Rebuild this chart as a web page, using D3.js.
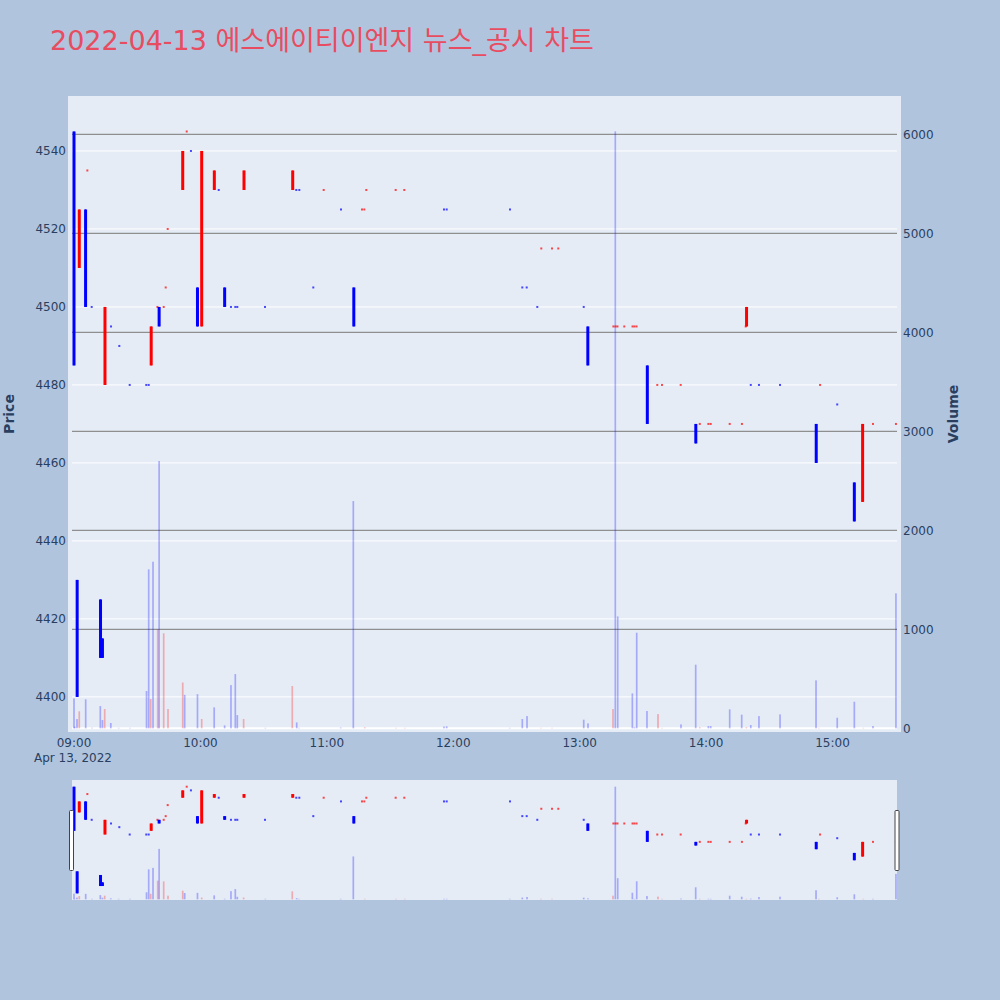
<!DOCTYPE html>
<html><head><meta charset="utf-8">
<script src="https://cdn.jsdelivr.net/npm/d3@7"></script>
<style>body{margin:0;background:#b0c4de;} svg{display:block}</style>
</head><body><svg id="c" width="1000" height="1000"></svg>
<script>
// ---------- DATA ----------
const chartTitle = "2022-04-13 에스에이티이엔지 뉴스_공시 차트";
const tradeDate = "2022-04-13";
const candleTime = ["09:00:00","09:01:30","09:02:30","09:05:30","09:06:20","09:08:24","09:12:35","09:13:30","09:14:42","09:17:34",
 "09:21:30","09:26:26","09:34:18","09:35:27","09:36:38","09:39:36","09:40:24","09:42:34","09:43:31","09:44:28",
 "09:51:36","09:53:30","09:55:30","09:58:36","10:00:36","10:06:36","10:08:41","10:11:30","10:14:30","10:16:33",
 "10:17:30","10:20:41","10:30:39","10:43:48","10:45:30","10:46:56","10:53:34","10:58:30","11:06:43","11:12:48",
 "11:16:41","11:17:47","11:18:44","11:32:40","11:36:46","11:55:36","11:56:53","12:26:56","12:32:46","12:34:51",
 "12:39:53","12:41:47","12:46:52","12:49:51","13:01:55","13:03:52","13:16:00","13:17:00","13:17:56","13:21:10",
 "13:25:05","13:26:00","13:27:00","13:32:06","13:36:50","13:39:04","13:47:56","13:55:07","13:57:00","14:01:05",
 "14:02:11","14:11:12","14:17:00","14:18:48","14:19:12","14:21:12","14:25:05","14:35:05","14:52:16","14:54:05",
 "15:02:14","15:10:21","15:14:17","15:19:12","15:30:06"];
const candleOpen = [4545,4430,4510,4525,4535,4500,4425,4415,4480,4495,
 4490,4480,4480,4480,4485,4500,4500,4500,4505,4520,
 4530,4545,4540,4505,4495,4530,4530,4505,4500,4500,
 4500,4530,4500,4530,4530,4530,4505,4530,4525,4505,
 4525,4525,4530,4530,4530,4525,4525,4525,4505,4505,
 4500,4515,4515,4515,4500,4495,4495,4495,4495,4495,
 4495,4495,4495,4485,4480,4480,4480,4470,4470,4470,
 4470,4470,4470,4495,4495,4480,4480,4480,4470,4480,
 4475,4455,4450,4470,4470];
const candleClose = [4485,4400,4525,4500,4535,4500,4410,4410,4500,4495,
 4490,4480,4480,4480,4495,4500,4495,4500,4505,4520,
 4540,4545,4540,4495,4540,4535,4530,4500,4500,4500,
 4500,4535,4500,4535,4530,4530,4505,4530,4525,4495,
 4525,4525,4530,4530,4530,4525,4525,4525,4505,4505,
 4500,4515,4515,4515,4500,4485,4495,4495,4495,4495,
 4495,4495,4495,4470,4480,4480,4480,4465,4470,4470,
 4470,4470,4470,4495,4500,4480,4480,4480,4460,4480,
 4475,4445,4470,4470,4470];
// 1 = rising (red), 0 = falling (blue)
const candleUp = [0,0,1,0,1,0,0,0,1,0,
 0,0,0,0,1,1,0,1,1,1,
 1,1,0,0,1,1,0,0,0,0,
 0,1,0,1,0,0,0,1,0,0,
 1,1,1,1,1,0,0,0,0,0,
 0,1,1,1,0,0,1,1,1,1,
 1,1,1,0,1,1,1,0,1,1,
 1,1,1,1,1,0,0,0,0,1,
 0,0,1,1,1];
const volTime = ["09:00:00","09:00:20","09:01:25","09:02:30","09:05:33","09:08:30","09:12:29","09:13:30","09:14:34","09:17:28",
 "09:21:13","09:26:35","09:34:25","09:35:27","09:36:24","09:37:30","09:39:43","09:40:24","09:42:34","09:44:37",
 "09:51:36","09:52:32","09:58:36","10:00:36","10:06:32","10:11:29","10:14:30","10:16:33","10:17:30","10:20:30",
 "10:30:48","10:43:36","10:45:42","10:46:47","11:06:35","11:12:34","11:18:00","11:32:50","11:37:00","11:55:36",
 "11:56:53","12:26:48","12:32:46","12:35:00","12:41:36","12:46:52","13:01:55","13:03:57","13:15:49","13:16:54",
 "13:18:03","13:25:00","13:26:00","13:27:04","13:31:56","13:37:10","13:39:04","13:48:05","13:55:04","13:57:00",
 "14:01:05","14:02:11","14:11:12","14:16:54","14:19:06","14:21:12","14:25:05","14:35:05","14:52:10","14:53:30",
 "15:02:14","15:10:21","15:14:37","15:19:12","15:30:06"];
const volValue = [303,16,94,172,293,6,225,84,195,54,
 5,5,377,1606,296,1683,1000,2700,960,195,
 463,338,345,94,212,30,437,548,134,94,
 5,427,60,5,8,2296,10,5,5,18,
 20,5,94,124,5,5,87,50,195,6030,
 1130,353,10,966,175,144,5,40,643,10,
 23,23,192,138,10,33,124,141,485,5,
 107,269,5,23,1364];
const volUp = [0,0,0,1,0,0,0,0,1,0,
 0,0,0,0,1,0,1,0,1,1,
 1,0,0,1,0,0,0,0,0,1,
 0,1,0,0,0,0,1,1,1,0,
 0,0,0,0,1,1,0,0,1,0,
 0,0,0,0,0,1,1,0,0,1,
 0,0,0,0,1,0,0,0,0,1,
 0,0,1,0,0];
const xTickLabels = ["09:00","10:00","11:00","12:00","13:00","14:00","15:00"];
const priceTicks = [4400,4420,4440,4460,4480,4500,4520,4540];
const volumeTicks = [0,1000,2000,3000,4000,5000,6000];

// ---------- LAYOUT ----------
const FONT = "'DejaVu Sans', Verdana, 'Noto Sans CJK KR', sans-serif";
const TXT = "#2a3f5f";
const UP = "#ff0000", DOWN = "#0000ff";
const L = 72, R = 897, T = 96, B = 732;
const sT = 780, sB = 900;
const parse = d3.timeParse("%Y-%m-%d %H:%M:%S");
const pt = s => parse(tradeDate + " " + s);

const svg = d3.select("#c");
svg.append("rect").attr("width",1000).attr("height",1000).attr("fill","#b0c4de");

const x = d3.scaleTime()
  .domain([pt("08:59:03"), pt("15:30:36")])
  .range([L, R]);
const yP = d3.scaleLinear().domain([4391.0, 4554.1]).range([B, T]);
const yV = d3.scaleLinear().domain([-37, 6387]).range([B, T]);
const ySP = d3.scaleLinear().domain(yP.domain()).range([sB, sT]);
const ySV = d3.scaleLinear().domain(yV.domain()).range([sB, sT]);

const candles = candleTime.map((t,i)=>({t:pt(t), o:candleOpen[i], c:candleClose[i],
  h:Math.max(candleOpen[i],candleClose[i]), l:Math.min(candleOpen[i],candleClose[i]), up:candleUp[i]===1}));
const vols = volTime.map((t,i)=>({t:pt(t), v:volValue[i], up:volUp[i]===1}));

// main plot background
svg.append("rect").attr("x",68).attr("y",T).attr("width",901-68).attr("height",B-T).attr("fill","#e5ecf6");

// price gridlines (white)
svg.append("g").selectAll("line").data(priceTicks).join("line")
  .attr("x1",L).attr("x2",R).attr("y1",d=>yP(d)).attr("y2",d=>yP(d))
  .attr("stroke","#ffffff").attr("stroke-width",1);
// volume gridlines (gray)
svg.append("g").selectAll("line").data(volumeTicks.filter(d=>d>0)).join("line")
  .attr("x1",L).attr("x2",R).attr("y1",d=>yV(d)).attr("y2",d=>yV(d))
  .attr("stroke","#8f8f8f").attr("stroke-width",1.2);
// volume zero line
svg.append("line").attr("x1",L).attr("x2",R).attr("y1",yV(0)).attr("y2",yV(0))
  .attr("stroke","#ffffff").attr("stroke-width",2);

function drawMarks(g, ys, yv){
  g.append("g").selectAll("rect").data(vols).join("rect")
    .attr("x",d=>x(d.t)-0.85).attr("width",1.7)
    .attr("y",d=>Math.min(yv(d.v), yv(0)-0.5))
    .attr("height",d=>Math.max(0.5, yv(0)-yv(d.v)))
    .attr("fill",d=>d.up?UP:DOWN).attr("fill-opacity",0.28);
  const cg = g.append("g");
  cg.selectAll("line").data(candles).join("line")
    .attr("x1",d=>x(d.t)).attr("x2",d=>x(d.t))
    .attr("y1",d=>ys(d.h)).attr("y2",d=>ys(d.l))
    .attr("stroke",d=>d.up?UP:DOWN).attr("stroke-width",1);
  cg.selectAll("rect").data(candles).join("rect")
    .attr("x",d=> d.o===d.c ? x(d.t)-1 : x(d.t)-1.5)
    .attr("width",d=> d.o===d.c ? 2 : 3)
    .attr("y",d=> d.o===d.c ? ys(d.c)-1 : ys(d.h))
    .attr("height",d=> d.o===d.c ? 2 : Math.max(2, ys(d.l)-ys(d.h)))
    .attr("fill",d=>d.up?UP:DOWN)
    .attr("fill-opacity",d=> d.o===d.c ? 0.7 : 1);
}
drawMarks(svg.append("g"), yP, yV);

// axes labels
const xt = xTickLabels.map(s=>pt(s+":00"));
const xg = svg.append("g").attr("font-family",FONT).attr("font-size",12).attr("fill",TXT);
xg.selectAll("text").data(xt).join("text")
  .attr("x",d=>x(d)).attr("y",746.5).attr("text-anchor","middle")
  .text(d=>d3.timeFormat("%H:%M")(d));
xg.append("text").attr("x",x(xt[0])-1).attr("y",761.5).attr("text-anchor","middle")
  .text(d3.timeFormat("%b %-d, %Y")(xt[0]));

const yg = svg.append("g").attr("font-family",FONT).attr("font-size",12).attr("fill",TXT);
yg.selectAll("text.l").data(priceTicks).join("text").attr("class","l")
  .attr("x",66).attr("y",d=>yP(d)+4.2).attr("text-anchor","end").text(d=>d);
yg.selectAll("text.r").data(volumeTicks).join("text").attr("class","r")
  .attr("x",903).attr("y",d=>yV(d)+4.2).attr("text-anchor","start").text(d=>d);

svg.append("text").attr("transform","translate(14,414) rotate(-90)")
  .attr("text-anchor","middle").attr("font-family",FONT).attr("font-size",14)
  .attr("font-weight","bold").attr("fill",TXT).text("Price");
svg.append("text").attr("transform","translate(958,414) rotate(-90)")
  .attr("text-anchor","middle").attr("font-family",FONT).attr("font-size",14)
  .attr("font-weight","bold").attr("fill",TXT).text("Volume");

// title
svg.append("text").attr("x",50).attr("y",50).attr("font-family",FONT)
  .attr("font-size",27).attr("fill","rgb(232,76,96)").text(chartTitle);

// range slider
svg.append("rect").attr("x",L).attr("y",sT).attr("width",R-L).attr("height",sB-sT).attr("fill","#e5ecf6");
const sg = svg.append("g");
drawMarks(sg, ySP, ySV);
[L-2.5, R-2].forEach(hx=>{
  svg.append("rect").attr("x",hx).attr("y",810.5).attr("width",4).attr("height",60)
    .attr("fill","#ffffff").attr("stroke","#444").attr("stroke-width",1).attr("rx",1);
});
</script></body></html>
